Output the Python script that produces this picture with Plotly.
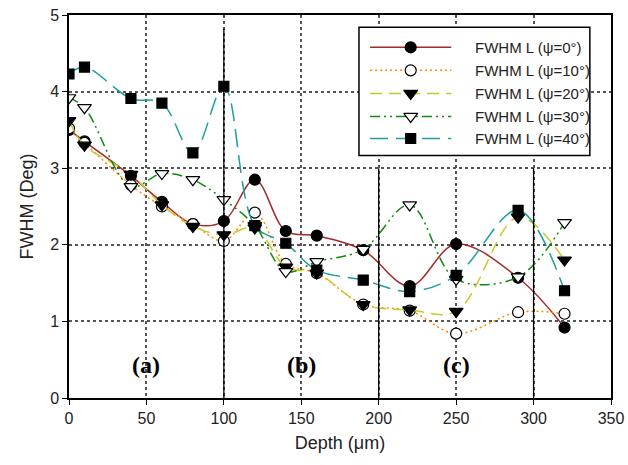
import plotly.graph_objects as go

# Depth positions (µm)
depth = [0, 10, 40, 60, 80, 100, 120, 140, 160, 190, 220, 250, 290, 320]

# FWHM L (deg) for each tilt angle psi
fwhm_psi0 = [3.50, 3.35, 2.90, 2.56, 2.27, 2.31, 2.85, 2.18, 2.12, 1.93, 1.46, 2.01, 1.57, 0.92]
fwhm_psi10 = [3.52, 3.33, 2.78, 2.50, 2.27, 2.05, 2.42, 1.75, 1.63, 1.22, 1.14, 0.84, 1.12, 1.10]
fwhm_psi20 = [3.62, 3.30, 2.92, 2.52, 2.24, 2.13, 2.22, 1.71, 1.63, 1.22, 1.15, 1.13, 2.36, 1.80]
fwhm_psi30 = [3.92, 3.79, 2.76, 2.93, 2.85, 2.59, 2.25, 1.65, 1.78, 1.94, 2.52, 1.55, 1.58, 2.29]
fwhm_psi40 = [4.23, 4.32, 3.91, 3.85, 3.20, 4.07, 2.25, 2.02, 1.67, 1.54, 1.39, 1.60, 2.45, 1.40]

series_names = ["FWHM L (\u03c8=0\u00b0)", "FWHM L (\u03c8=10\u00b0)",
                "FWHM L (\u03c8=20\u00b0)", "FWHM L (\u03c8=30\u00b0)",
                "FWHM L (\u03c8=40\u00b0)"]
series_values = [fwhm_psi0, fwhm_psi10, fwhm_psi20, fwhm_psi30, fwhm_psi40]

# Region labels and the separators between them
region_labels = ["(a)", "(b)", "(c)"]
region_x = [50, 150, 250]
region_y = 0.43
separator_x = [100, 200, 300]
separator_top = [4.82, 3.0, 3.0]

styles = [
    dict(color="#A52A2A", dash="solid", symbol="circle", fill="black", size=11),
    dict(color="#FF8C00", dash="2px,3px", symbol="circle", fill="white", size=11),
    dict(color="#C8C828", dash="12px,7px", symbol="triangle-down", fill="black", size=12),
    dict(color="#108A10", dash="10px,4px,2px,4px,2px,4px", symbol="triangle-down", fill="white", size=12),
    dict(color="#1E9E9E", dash="18px,8px", symbol="square", fill="black", size=10),
]

fig = go.Figure()

for name, vals, st in zip(series_names, series_values, styles):
    fig.add_trace(go.Scatter(
        x=depth, y=vals, name=name, mode="lines+markers", showlegend=False,
        line=dict(color=st["color"], width=1.5, dash=st["dash"], shape="spline", smoothing=1.0),
        marker=dict(symbol=st["symbol"], size=st["size"], color=st["fill"],
                    line=dict(color="black", width=1.2)),
    ))

# Separator lines between regions
for sx, top in zip(separator_x, separator_top):
    fig.add_shape(type="line", xref="x", yref="y", x0=sx, x1=sx, y0=0, y1=top,
                  line=dict(color="black", width=1.3))

for lab, lx in zip(region_labels, region_x):
    fig.add_annotation(x=lx, y=region_y, xref="x", yref="y", text="<b>" + lab + "</b>",
                       showarrow=False, font=dict(family="Liberation Serif", size=24, color="black"))

# Legend drawn on its own small axes so the line samples can be long
leg_rows = [0.844, 0.664, 0.484, 0.305, 0.133]
for name, st, ry in zip(series_names, styles, leg_rows):
    fig.add_trace(go.Scatter(
        x=[0.048, 0.40], y=[ry, ry], xaxis="x2", yaxis="y2", mode="lines", showlegend=False,
        hoverinfo="skip", line=dict(color=st["color"], width=1.5, dash=st["dash"]),
    ))
    fig.add_trace(go.Scatter(
        x=[0.224], y=[ry], xaxis="x2", yaxis="y2", mode="markers", showlegend=False,
        hoverinfo="skip",
        marker=dict(symbol=st["symbol"], size=st["size"], color=st["fill"],
                    line=dict(color="black", width=1.2)),
    ))
    fig.add_annotation(x=0.494, y=ry, xref="x2", yref="y2", text=name, showarrow=False,
                       xanchor="left", yanchor="middle",
                       font=dict(family="Liberation Sans", size=15, color="#222"))

fig.add_shape(type="rect", xref="paper", yref="paper", x0=0.535, x1=0.961, y0=0.633, y1=0.968,
              line=dict(color="black", width=1.5), fillcolor="rgba(0,0,0,0)")

axis_common = dict(
    showline=True, linecolor="black", linewidth=1.5, mirror=True,
    ticks="outside", ticklen=5, tickcolor="black", tickwidth=1,
    showgrid=True, gridcolor="#555555", gridwidth=1.5, griddash="dot",
    zeroline=False, automargin=False,
    tickfont=dict(family="Liberation Sans", size=16, color="#222"),
)

fig.update_layout(
    width=628, height=465,
    margin=dict(l=69, r=17, t=15, b=67, autoexpand=False),
    paper_bgcolor="white", plot_bgcolor="white",
    font=dict(family="Liberation Sans", color="#222"),
    showlegend=False,
    xaxis=dict(range=[0, 350], tickvals=[0, 50, 100, 150, 200, 250, 300, 350],
               title=dict(text="Depth (\u03bcm)", font=dict(size=18), standoff=10), **axis_common),
    yaxis=dict(range=[0, 5], tickvals=[0, 1, 2, 3, 4, 5],
               title=dict(text="FWHM (Deg)", font=dict(size=18), standoff=12), **axis_common),
    xaxis2=dict(domain=[0.535, 0.961], range=[0, 1], anchor="y2", visible=False, fixedrange=True),
    yaxis2=dict(domain=[0.633, 0.968], range=[0, 1], anchor="x2", visible=False, fixedrange=True),
)

fig.write_html("out.html")
